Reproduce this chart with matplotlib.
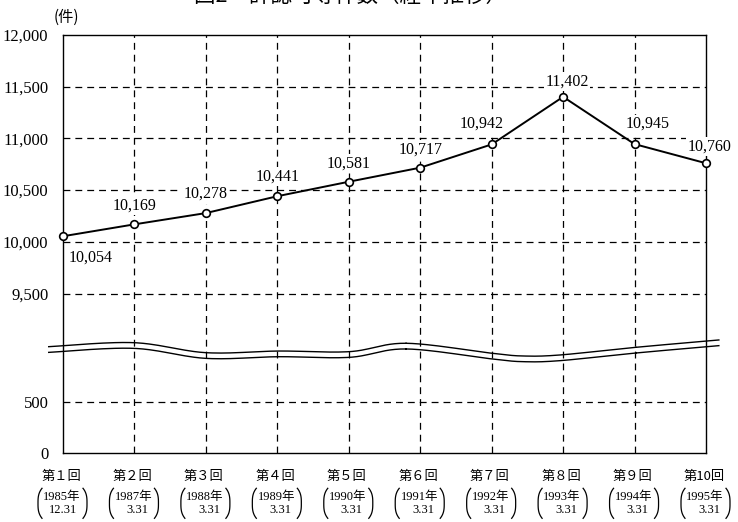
import numpy as np
import matplotlib
matplotlib.use('Agg')
import matplotlib.pyplot as plt
import matplotlib.transforms as mtransforms
from matplotlib.lines import Line2D

plt.rcParams['font.family'] = ['Liberation Serif', 'Noto Sans CJK JP']

# data
rounds = ['第１回', '第２回', '第３回', '第４回', '第５回',
          '第６回', '第７回', '第８回', '第９回', '第10回']
years = ['1985年', '1987年', '1988年', '1989年', '1990年',
         '1991年', '1992年', '1993年', '1994年', '1995年']
dates = ['12.31', '3.31', '3.31', '3.31', '3.31',
         '3.31', '3.31', '3.31', '3.31', '3.31']
counts = [10054, 10169, 10278, 10441, 10581, 10717, 10942, 11402, 10945, 10760]
ytick_values = [0, 500, 9500, 10000, 10500, 11000, 11500, 12000]

# broken axis: 0-500 shown as is, 9,500-12,000 moved down
GAP_TOP = 1545


def to_axis(v):
    v = np.asarray(v, dtype=float)
    return np.where(v <= 500, v, v - 9500 + GAP_TOP)


def catmull(px, py, n=25):
    px = np.r_[px[0], px, px[-1]]
    py = np.r_[py[0], py, py[-1]]
    xs, ys = [], []
    t = np.linspace(0, 1, n)
    for i in range(1, len(px) - 2):
        for arr, out in ((px, xs), (py, ys)):
            p0, p1, p2, p3 = arr[i - 1], arr[i], arr[i + 1], arr[i + 2]
            out.append(0.5 * (2 * p1 + (-p0 + p2) * t
                              + (2 * p0 - 5 * p1 + 4 * p2 - p3) * t ** 2
                              + (-p0 + 3 * p1 - 3 * p2 + p3) * t ** 3))
    return np.concatenate(xs), np.concatenate(ys)


fig = plt.figure(figsize=(7.38, 5.22), dpi=100)
ax = fig.add_axes([63 / 738, 1 - 453.3 / 522, (706 - 63) / 738, (453.3 - 35) / 522])

x = np.arange(len(counts))
ax.set_xlim(0, len(counts) - 1)
ax.set_ylim(0, to_axis(12000))

# grid
dash = dict(color='black', lw=0.9, ls=(0, (5.5, 4)), zorder=1)
for v in ytick_values[1:-1]:
    ax.axhline(to_axis(v), **dash)
for xi in x[1:-1]:
    ax.axvline(xi, **dash)

for s in ax.spines.values():
    s.set_linewidth(1.0)

ax.set_yticks(to_axis(ytick_values))
ax.set_yticklabels([f'{v:,}' for v in ytick_values], fontsize=12)
ax.tick_params(axis='y', length=0, pad=10.5)
ax.set_xticks([])

# wavy break lines
wx = np.array([-0.2, 0.985, 2.0, 3.02, 4.01, 4.8, 6.01, 6.44, 6.96, 8.02, 9.18])
wy = np.array([1031, 1070, 973, 989, 983, 1064, 967, 941, 951, 1025, 1096])
cx, cy = catmull(wx, wy)
ax.plot(cx, cy, color='black', lw=1.0, clip_on=False, zorder=3)
ax.plot(cx, cy - 55, color='black', lw=1.0, clip_on=False, zorder=3)

# data line
ax.plot(x, to_axis(counts), color='black', lw=1.4, marker='o', ms=5.5,
        mfc='white', mec='black', mew=1.2, zorder=5, clip_on=False)

label_off = [(28, -21), (0, 19), (0, 19), (0, 20), (0, 18),
             (0, 18), (-10, 21), (4, 15), (13, 20), (4, 17)]
for xi, v, off in zip(x, counts, label_off):
    ax.annotate(f'{v:,}', (xi, float(to_axis(v))), xytext=off,
                textcoords='offset pixels', ha='center', va='center',
                fontsize=11.5, zorder=6,
                bbox=dict(boxstyle='square,pad=0.1', fc='white', ec='none'))

# category labels below the axis
xtrans = ax.get_xaxis_transform()
for xi, r, yr, d in zip(x, rounds, years, dates):
    ax.annotate(r, (xi, 0), xycoords=xtrans, xytext=(-2, -23),
                textcoords='offset pixels', ha='center', va='center',
                fontsize=9.5, family=['Noto Sans CJK JP'], annotation_clip=False)
    ax.annotate(yr, (xi, 0), xycoords=xtrans, xytext=(-1, -44),
                textcoords='offset pixels', ha='center', va='center',
                fontsize=9, annotation_clip=False)
    ax.annotate(d, (xi, 0), xycoords=xtrans, xytext=(14, -57),
                textcoords='offset pixels', ha='right', va='center',
                fontsize=9, annotation_clip=False)

# big brackets round the dates
t = np.linspace(0, np.pi, 60)
by = -50 + 15 * np.cos(t)
bx = 4 * np.abs(np.cos(t)) ** 3
for xi in x:
    ax_px, ay_px = xtrans.transform((xi, 0))
    tr = mtransforms.Affine2D().translate(ax_px, ay_px)
    fig.add_artist(Line2D(-25 + bx, by, transform=tr, color='black', lw=0.9))
    fig.add_artist(Line2D(24 - bx, by, transform=tr, color='black', lw=0.9))

fig.text(66 / 738, 1 - 17.5 / 522, '(件)', ha='center', va='center',
         fontsize=11, family=['Noto Sans CJK JP'])
fig.text(350 / 738, 1 - 2 / 522, '図2　許認可等件数（経年推移）', ha='center',
         va='baseline', fontsize=15.5, family=['Noto Sans CJK JP'])

fig.savefig('out.png', dpi=100)
